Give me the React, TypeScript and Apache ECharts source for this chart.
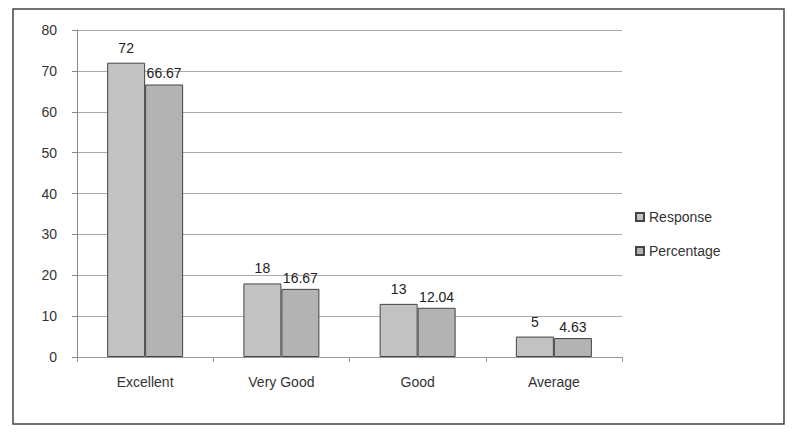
import React, { useEffect, useRef } from "react";
import * as echarts from "echarts";

const categories = ["Excellent", "Very Good", "Good", "Average"];
const responseValues = [72, 18, 13, 5];
const percentageValues = [66.67, 16.67, 12.04, 4.63];
const seriesNames = ["Response", "Percentage"];

export default function App() {
  const ref = useRef<HTMLDivElement>(null);
  useEffect(() => {
    if (!ref.current) return;
    const chart = echarts.init(ref.current, undefined, { renderer: "svg" });
    const font = "Liberation Sans";
    chart.setOption({
      animation: false,
      backgroundColor: "#ffffff",
      textStyle: { fontFamily: font },
      graphic: [
        {
          type: "rect",
          shape: { x: 13, y: 9, width: 771, height: 415 },
          style: { fill: "none", stroke: "#444", lineWidth: 1.5 },
          silent: true,
        },
      ],
      grid: { left: 77, right: 170, top: 30, bottom: 75 },
      legend: {
        orient: "vertical",
        left: 630,
        top: 205,
        icon: "rect",
        itemWidth: 8,
        itemHeight: 8,
        itemGap: 20,
        textStyle: { fontSize: 14, color: "#333", fontFamily: font },
        data: seriesNames,
      },
      xAxis: {
        type: "category",
        data: categories,
        axisLine: { show: true, lineStyle: { color: "#999" } },
        axisTick: { show: true, lineStyle: { color: "#999" } },
        axisLabel: { fontSize: 14, color: "#333", margin: 18 },
      },
      yAxis: {
        type: "value",
        min: 0,
        max: 80,
        interval: 10,
        axisLine: { show: true, lineStyle: { color: "#888" } },
        axisTick: { show: true, lineStyle: { color: "#888" } },
        axisLabel: { fontSize: 14, color: "#333", margin: 20 },
        splitLine: { show: true, lineStyle: { color: "#aaa" } },
      },
      series: [
        {
          name: seriesNames[0],
          type: "bar",
          data: responseValues,
          barWidth: 38,
          barGap: "0%",
          itemStyle: { color: "#c2c2c2", borderColor: "#444", borderWidth: 1 },
          label: { show: true, position: "top", fontSize: 14, color: "#222", distance: 8 },
        },
        {
          name: seriesNames[1],
          type: "bar",
          data: percentageValues,
          barWidth: 38,
          barGap: "0%",
          itemStyle: { color: "#b3b3b3", borderColor: "#444", borderWidth: 1 },
          label: { show: true, position: "top", fontSize: 14, color: "#222", distance: 4 },
        },
      ],
    });
    return () => chart.dispose();
  }, []);
  return (
    <div
      ref={ref}
      style={{ position: "fixed", left: 0, top: 0, width: 792, height: 432 }}
    />
  );
}
